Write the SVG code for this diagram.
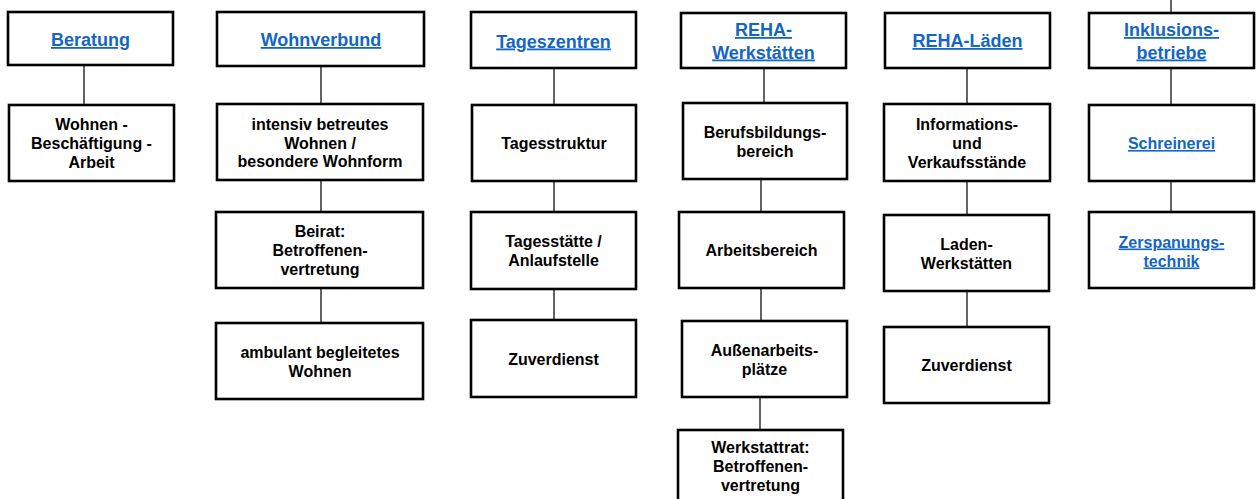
<svg xmlns="http://www.w3.org/2000/svg" width="1258" height="499" viewBox="0 0 1258 499">
<style>
  .box { fill: #ffffff; stroke: #000000; stroke-width: 2.6; }
  .con { stroke: #222222; stroke-width: 1.4; fill: none; }
  text { font-family: "Liberation Sans", Arial, sans-serif; font-weight: bold; text-anchor: middle; }
  .h { font-size: 18px; fill: #1366C4; text-decoration: underline; }
  .t { font-size: 16px; fill: #000000; }
  .l { font-size: 16px; fill: #1366C4; text-decoration: underline; }
</style>
<rect width="1258" height="499" fill="#ffffff"/>
<g id="connectors">
  <line class="con" x1="84" y1="65" x2="84" y2="105"/>
  <line class="con" x1="321" y1="66" x2="321" y2="104"/>
  <line class="con" x1="321" y1="180" x2="321" y2="212"/>
  <line class="con" x1="321" y1="288" x2="321" y2="323"/>
  <line class="con" x1="554" y1="68" x2="554" y2="105"/>
  <line class="con" x1="554" y1="181" x2="554" y2="212"/>
  <line class="con" x1="554" y1="289" x2="554" y2="320"/>
  <line class="con" x1="764" y1="68" x2="764" y2="103"/>
  <line class="con" x1="761" y1="179" x2="761" y2="212"/>
  <line class="con" x1="761" y1="288" x2="761" y2="321"/>
  <line class="con" x1="760" y1="397" x2="760" y2="430"/>
  <line class="con" x1="967" y1="68" x2="967" y2="104"/>
  <line class="con" x1="967" y1="181" x2="967" y2="215"/>
  <line class="con" x1="967" y1="291" x2="967" y2="327"/>
  <line class="con" x1="1171" y1="0" x2="1171" y2="13"/>
  <line class="con" x1="1171" y1="68" x2="1171" y2="105"/>
  <line class="con" x1="1171" y1="181" x2="1171" y2="212"/>
</g>
<g id="beratung">
  <rect class="box" x="8" y="12" width="165" height="53"/>
  <text class="h" x="90.5" y="46">Beratung</text>
</g>
<g id="wohnen-beschaeftigung-arbeit">
  <rect class="box" x="9" y="105" width="165" height="76"/>
  <text class="t" x="91.5" y="130">Wohnen -</text>
  <text class="t" x="91.5" y="149">Beschäftigung -</text>
  <text class="t" x="91.5" y="168">Arbeit</text>
</g>
<g id="wohnverbund">
  <rect class="box" x="217" y="12" width="207" height="54"/>
  <text class="h" x="321" y="46">Wohnverbund</text>
</g>
<g id="intensiv-betreutes-wohnen">
  <rect class="box" x="217" y="104" width="206" height="76"/>
  <text class="t" x="320" y="130">intensiv betreutes</text>
  <text class="t" x="320" y="148.5">Wohnen /</text>
  <text class="t" x="320" y="167">besondere Wohnform</text>
</g>
<g id="beirat">
  <rect class="box" x="216" y="212" width="207" height="76"/>
  <text class="t" x="320" y="237">Beirat:</text>
  <text class="t" x="320" y="256">Betroffenen-</text>
  <text class="t" x="320" y="275">vertretung</text>
</g>
<g id="ambulant-begleitetes-wohnen">
  <rect class="box" x="216" y="323" width="207" height="76"/>
  <text class="t" x="320" y="357.5">ambulant begleitetes</text>
  <text class="t" x="320" y="376.5">Wohnen</text>
</g>
<g id="tageszentren">
  <rect class="box" x="471" y="12" width="165" height="56"/>
  <text class="h" x="553.5" y="47.5">Tageszentren</text>
</g>
<g id="tagesstruktur">
  <rect class="box" x="472" y="105" width="164" height="76"/>
  <text class="t" x="554" y="149">Tagesstruktur</text>
</g>
<g id="tagesstaette">
  <rect class="box" x="471" y="212" width="165" height="77"/>
  <text class="t" x="553.5" y="247">Tagesstätte /</text>
  <text class="t" x="553.5" y="266">Anlaufstelle</text>
</g>
<g id="zuverdienst-tz">
  <rect class="box" x="471" y="320" width="165" height="77"/>
  <text class="t" x="553.5" y="364.5">Zuverdienst</text>
</g>
<g id="reha-werkstaetten">
  <rect class="box" x="681" y="13" width="165" height="55"/>
  <text class="h" x="763.5" y="36">REHA-</text>
  <text class="h" x="763.5" y="58.5">Werkstätten</text>
</g>
<g id="berufsbildungsbereich">
  <rect class="box" x="683" y="103" width="164" height="76"/>
  <text class="t" x="765" y="137.5">Berufsbildungs-</text>
  <text class="t" x="765" y="156.5">bereich</text>
</g>
<g id="arbeitsbereich">
  <rect class="box" x="679" y="212" width="165" height="76"/>
  <text class="t" x="761.5" y="256">Arbeitsbereich</text>
</g>
<g id="aussenarbeitsplaetze">
  <rect class="box" x="682" y="321" width="165" height="76"/>
  <text class="t" x="764.5" y="355.5">Außenarbeits-</text>
  <text class="t" x="764.5" y="374.5">plätze</text>
</g>
<g id="werkstattrat">
  <rect class="box" x="678" y="430" width="165" height="76"/>
  <text class="t" x="760.5" y="453">Werkstattrat:</text>
  <text class="t" x="760.5" y="472">Betroffenen-</text>
  <text class="t" x="760.5" y="491">vertretung</text>
</g>
<g id="reha-laeden">
  <rect class="box" x="885" y="13" width="165" height="55"/>
  <text class="h" x="967.5" y="47">REHA-Läden</text>
</g>
<g id="informations-verkaufsstaende">
  <rect class="box" x="884" y="104" width="166" height="77"/>
  <text class="t" x="967" y="129.5">Informations-</text>
  <text class="t" x="967" y="148.5">und</text>
  <text class="t" x="967" y="167.5">Verkaufsstände</text>
</g>
<g id="laden-werkstaetten">
  <rect class="box" x="884" y="215" width="165" height="76"/>
  <text class="t" x="966.5" y="249.5">Laden-</text>
  <text class="t" x="966.5" y="268.5">Werkstätten</text>
</g>
<g id="zuverdienst-rl">
  <rect class="box" x="884" y="327" width="165" height="76"/>
  <text class="t" x="966.5" y="371">Zuverdienst</text>
</g>
<g id="inklusionsbetriebe">
  <rect class="box" x="1089" y="13" width="165" height="55"/>
  <text class="h" x="1171.5" y="36">Inklusions-</text>
  <text class="h" x="1171.5" y="58.5">betriebe</text>
</g>
<g id="schreinerei">
  <rect class="box" x="1089" y="105" width="165" height="76"/>
  <text class="l" x="1171.5" y="149">Schreinerei</text>
</g>
<g id="zerspanungstechnik">
  <rect class="box" x="1089" y="212" width="165" height="76"/>
  <text class="l" x="1171.5" y="247.5">Zerspanungs-</text>
  <text class="l" x="1171.5" y="266.5">technik</text>
</g>
</svg>
